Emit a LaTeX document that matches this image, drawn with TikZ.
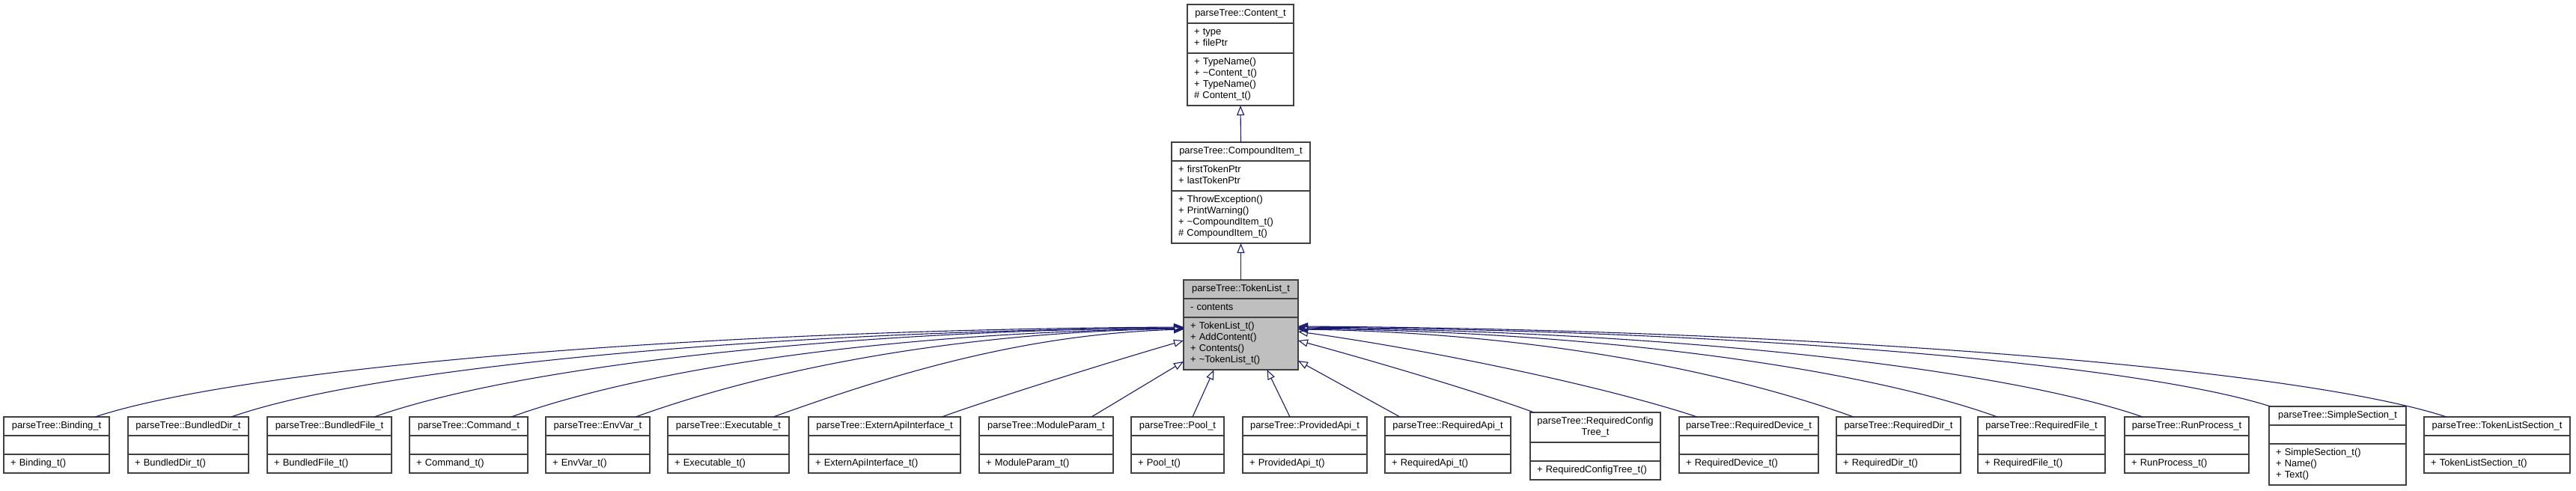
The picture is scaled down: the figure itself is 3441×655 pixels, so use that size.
\documentclass[tikz,border=0pt]{standalone}
\usepackage{fontspec}
\setmainfont{Liberation Sans}
\usepackage{tikz}
\usetikzlibrary{positioning,arrows.meta,calc}
\definecolor{edgeblue}{RGB}{25,25,112}
\definecolor{boxline}{RGB}{64,64,64}
\definecolor{boxgray}{RGB}{191,191,191}

\begin{document}
\begin{tikzpicture}[
  x=0.5pt, y=-0.5pt,
  clstitle/.style={rectangle, draw=boxline, line width=0.65pt, fill=white, outer sep=0pt, inner xsep=4.5pt, inner ysep=2.5pt, text width=#1, align=center, font=\fontsize{6.45pt}{7.5pt}\selectfont},
  clspart/.style={clstitle=#1, align=left},
  inherit/.style={-{Triangle[open, length=6.5pt, width=5pt]}, draw=edgeblue, line width=0.55pt}
]
  \useasboundingbox (0,0) rectangle (3441,655);

  \node[clstitle=62pt, anchor=north west] (content) at (1586,6) {\strut parseTree::Content\_t};
  \node[clspart=62pt, below=0pt of content] (contentattr) {\strut + type\\+ filePtr\strut};
  \node[clspart=62pt, below=0pt of contentattr] (contentops) {\strut + TypeName()\\+ \textasciitilde Content\_t()\\+ TypeName()\\\# Content\_t()\strut};

  \node[clstitle=83.5pt, anchor=north west] (compounditem) at (1565,190) {\strut parseTree::CompoundItem\_t};
  \node[clspart=83.5pt, below=0pt of compounditem] (compounditemattr) {\strut + firstTokenPtr\\+ lastTokenPtr\strut};
  \node[clspart=83.5pt, below=0pt of compounditemattr] (compounditemops) {\strut + ThrowException()\\+ PrintWarning()\\+ \textasciitilde CompoundItem\_t()\\\# CompoundItem\_t()\strut};

  \node[clstitle=67.5pt, fill=boxgray, anchor=north west] (tokenlist) at (1581,374) {\strut parseTree::TokenList\_t};
  \node[clspart=67.5pt, fill=boxgray, below=0pt of tokenlist] (tokenlistattr) {\strut - contents};
  \node[clspart=67.5pt, fill=boxgray, below=0pt of tokenlistattr] (tokenlistops) {\strut + TokenList\_t()\\+ AddContent()\\+ Contents()\\+ \textasciitilde TokenList\_t()\strut};

  \node[clstitle=61.5pt, anchor=north west] (binding) at (5,557) {\strut parseTree::Binding\_t};
  \node[clspart=61.5pt, below=0pt of binding] (bindingattr) {\strut};
  \node[clspart=61.5pt, below=0pt of bindingattr] (bindingops) {\strut + Binding\_t()};

  \node[clstitle=71.5pt, anchor=north west] (bundleddir) at (171,557) {\strut parseTree::BundledDir\_t};
  \node[clspart=71.5pt, below=0pt of bundleddir] (bundleddirattr) {\strut};
  \node[clspart=71.5pt, below=0pt of bundleddirattr] (bundleddirops) {\strut + BundledDir\_t()};

  \node[clstitle=74pt, anchor=north west] (bundledfile) at (357,557) {\strut parseTree::BundledFile\_t};
  \node[clspart=74pt, below=0pt of bundledfile] (bundledfileattr) {\strut};
  \node[clspart=74pt, below=0pt of bundledfileattr] (bundledfileops) {\strut + BundledFile\_t()};

  \node[clstitle=70pt, anchor=north west] (command) at (547,557) {\strut parseTree::Command\_t};
  \node[clspart=70pt, below=0pt of command] (commandattr) {\strut};
  \node[clspart=70pt, below=0pt of commandattr] (commandops) {\strut + Command\_t()};

  \node[clstitle=60.5pt, anchor=north west] (envvar) at (729,557) {\strut parseTree::EnvVar\_t};
  \node[clspart=60.5pt, below=0pt of envvar] (envvarattr) {\strut};
  \node[clspart=60.5pt, below=0pt of envvarattr] (envvarops) {\strut + EnvVar\_t()};

  \node[clstitle=72pt, anchor=north west] (executable) at (892,557) {\strut parseTree::Executable\_t};
  \node[clspart=72pt, below=0pt of executable] (executableattr) {\strut};
  \node[clspart=72pt, below=0pt of executableattr] (executableops) {\strut + Executable\_t()};

  \node[clstitle=92.5pt, anchor=north west] (externapi) at (1080,557) {\strut parseTree::ExternApiInterface\_t};
  \node[clspart=92.5pt, below=0pt of externapi] (externapiattr) {\strut};
  \node[clspart=92.5pt, below=0pt of externapiattr] (externapiops) {\strut + ExternApiInterface\_t()};

  \node[clstitle=80.5pt, anchor=north west] (moduleparam) at (1308,557) {\strut parseTree::ModuleParam\_t};
  \node[clspart=80.5pt, below=0pt of moduleparam] (moduleparamattr) {\strut};
  \node[clspart=80.5pt, below=0pt of moduleparamattr] (moduleparamops) {\strut + ModuleParam\_t()};

  \node[clstitle=53pt, anchor=north west] (pool) at (1511,557) {\strut parseTree::Pool\_t};
  \node[clspart=53pt, below=0pt of pool] (poolattr) {\strut};
  \node[clspart=53pt, below=0pt of poolattr] (poolops) {\strut + Pool\_t()};

  \node[clstitle=74pt, anchor=north west] (providedapi) at (1660,557) {\strut parseTree::ProvidedApi\_t};
  \node[clspart=74pt, below=0pt of providedapi] (providedapiattr) {\strut};
  \node[clspart=74pt, below=0pt of providedapiattr] (providedapiops) {\strut + ProvidedApi\_t()};

  \node[clstitle=75pt, anchor=north west] (requiredapi) at (1850,557) {\strut parseTree::RequiredApi\_t};
  \node[clspart=75pt, below=0pt of requiredapi] (requiredapiattr) {\strut};
  \node[clspart=75pt, below=0pt of requiredapiattr] (requiredapiops) {\strut + RequiredApi\_t()};

  \node[clstitle=78pt, anchor=north west] (reqconfig) at (2044,551) {\strut parseTree::RequiredConfig\\Tree\_t\strut};
  \node[clspart=78pt, below=0pt of reqconfig] (reqconfigattr) {\strut};
  \node[clspart=78pt, below=0pt of reqconfigattr] (reqconfigops) {\strut + RequiredConfigTree\_t()};

  \node[clstitle=84pt, anchor=north west] (requireddevice) at (2243,557) {\strut parseTree::RequiredDevice\_t};
  \node[clspart=84pt, below=0pt of requireddevice] (requireddeviceattr) {\strut};
  \node[clspart=84pt, below=0pt of requireddeviceattr] (requireddeviceops) {\strut + RequiredDevice\_t()};

  \node[clstitle=74pt, anchor=north west] (requireddir) at (2453,557) {\strut parseTree::RequiredDir\_t};
  \node[clspart=74pt, below=0pt of requireddir] (requireddirattr) {\strut};
  \node[clspart=74pt, below=0pt of requireddirattr] (requireddirops) {\strut + RequiredDir\_t()};

  \node[clstitle=76pt, anchor=north west] (requiredfile) at (2642,557) {\strut parseTree::RequiredFile\_t};
  \node[clspart=76pt, below=0pt of requiredfile] (requiredfileattr) {\strut};
  \node[clspart=76pt, below=0pt of requiredfileattr] (requiredfileops) {\strut + RequiredFile\_t()};

  \node[clstitle=74pt, anchor=north west] (runprocess) at (2838,557) {\strut parseTree::RunProcess\_t};
  \node[clspart=74pt, below=0pt of runprocess] (runprocessattr) {\strut};
  \node[clspart=74pt, below=0pt of runprocessattr] (runprocessops) {\strut + RunProcess\_t()};

  \node[clstitle=82.5pt, anchor=north west] (simplesection) at (3031,543) {\strut parseTree::SimpleSection\_t};
  \node[clspart=82.5pt, below=0pt of simplesection] (simplesectionattr) {\strut};
  \node[clspart=82.5pt, below=0pt of simplesectionattr] (simplesectionops) {\strut + SimpleSection\_t()\\+ Name()\\+ Text()\strut};

  \node[clstitle=88.5pt, anchor=north west] (tokenlistsection) at (3238,557) {\strut parseTree::TokenListSection\_t};
  \node[clspart=88.5pt, below=0pt of tokenlistsection] (tokenlistsectionattr) {\strut};
  \node[clspart=88.5pt, below=0pt of tokenlistsectionattr] (tokenlistsectionops) {\strut + TokenListSection\_t()};

  \draw[inherit] (compounditem.north) -- (contentops.south);
  \draw[inherit] (tokenlist.north) -- (compounditemops.south);

  \draw[inherit] ($(binding.north west)+(122,0)$) .. controls +(203,-67) and +(-631,3) .. ($(tokenlistops.north west)+(0,13)$);
  \draw[inherit] ($(bundleddir.north west)+(138,0)$) .. controls +(190,-67) and +(-550,4) .. ($(tokenlistops.north west)+(0,14)$);
  \draw[inherit] ($(bundledfile.north west)+(143,0)$) .. controls +(185,-66) and +(-470,4) .. ($(tokenlistops.north west)+(0,14)$);
  \draw[inherit] ($(command.north west)+(136,0)$) .. controls +(180,-65) and +(-390,5) .. ($(tokenlistops.north west)+(0,15)$);
  \draw[inherit] ($(envvar.north west)+(120,0)$) .. controls +(180,-65) and +(-300,5) .. ($(tokenlistops.north west)+(0,15)$);
  \draw[inherit] ($(executable.north west)+(141,0)$) .. controls +(180,-65) and +(-200,6) .. ($(tokenlistops.north west)+(0,16)$);
  \draw[inherit] ($(externapi.north west)+(178,0)$) .. controls +(60,-22) and +(-100,29) .. ($(tokenlistops.north west)+(0,31)$);
  \draw[inherit] ($(moduleparam.north west)+(150,0)$) -- ($(tokenlistops.north west)+(0,59)$);
  \draw[inherit] ($(pool.north west)+(82,0)$) -- ($(tokenlistops.south)+(-36,0)$);
  \draw[inherit] ($(providedapi.north west)+(63,0)$) -- ($(tokenlistops.south)+(35,0)$);
  \draw[inherit] ($(requiredapi.north west)+(20,0)$) -- ($(tokenlistops.north east)+(0,58)$);
  \draw[inherit] ($(reqconfig.north west)+(5,0)$) .. controls +(-70,-26) and +(100,27) .. ($(tokenlistops.north east)+(0,31)$);
  \draw[inherit] ($(requireddevice.north west)+(24,0)$) .. controls +(-120,-40) and +(180,25) .. ($(tokenlistops.north east)+(0,19)$);
  \draw[inherit] ($(requireddir.north west)+(23,0)$) .. controls +(-180,-65) and +(300,4) .. ($(tokenlistops.north east)+(0,16)$);
  \draw[inherit] ($(requiredfile.north west)+(26,0)$) .. controls +(-180,-65) and +(400,4) .. ($(tokenlistops.north east)+(0,15)$);
  \draw[inherit] ($(runprocess.north west)+(24,0)$) .. controls +(-190,-66) and +(490,4) .. ($(tokenlistops.north east)+(0,14)$);
  \draw[inherit] ($(simplesection.north west)+(2,0)$) .. controls +(-190,-60) and +(560,4) .. ($(tokenlistops.north east)+(0,13)$);
  \draw[inherit] ($(tokenlistsection.north west)+(30,0)$) .. controls +(-205,-67) and +(660,4) .. ($(tokenlistops.north east)+(0,12)$);
\end{tikzpicture}
\end{document}
